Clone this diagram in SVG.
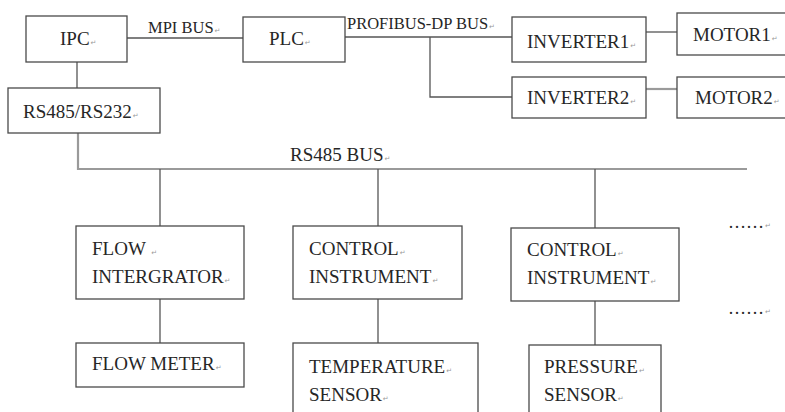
<svg xmlns="http://www.w3.org/2000/svg" width="785" height="412" viewBox="0 0 785 412">
<style>
.box{fill:#fff;stroke:#4a4a4a;stroke-width:1.3}
.ln{fill:none;stroke:#555;stroke-width:1.3}
.bus{fill:none;stroke:#9a9a9a;stroke-width:2.2}
.t{font-family:'Liberation Serif','Times New Roman',serif;font-size:19px;fill:#262626}
.lb{font-family:'Liberation Serif','Times New Roman',serif;font-size:16.5px;fill:#262626}
.rm{font-family:'DejaVu Sans',sans-serif;font-size:7px;fill:#999}
</style>
<rect width="785" height="412" fill="#fff"/>
<g id="connectors">
<line class="ln" x1="127" y1="38" x2="243" y2="38"/>
<line class="ln" x1="345" y1="37" x2="512" y2="37"/>
<polyline class="ln" points="430,37 430,97 512,97"/>
<line class="ln" x1="646" y1="32" x2="677" y2="32"/>
<line class="bus" x1="646" y1="89" x2="677" y2="89"/>
<line class="ln" x1="77" y1="62" x2="77" y2="88"/>
<polyline class="bus" points="78,133 78,169 747,169"/>
<line class="ln" x1="160" y1="169" x2="160" y2="226"/>
<line class="ln" x1="378" y1="169" x2="378" y2="226"/>
<line class="ln" x1="595" y1="169" x2="595" y2="228"/>
<line class="ln" x1="160" y1="299" x2="160" y2="343"/>
<line class="ln" x1="378" y1="299" x2="378" y2="343"/>
<line class="ln" x1="595" y1="301" x2="595" y2="345"/>
<text class="lb" x="148" y="33">MPI BUS<tspan class="rm" dx="1">↵</tspan></text>
<text class="lb" x="347" y="29">PROFIBUS-DP BUS<tspan class="rm" dx="1">↵</tspan></text>
<text class="t" x="290" y="161">RS485 BUS<tspan class="rm" dx="1">↵</tspan></text>
</g>
<g id="ipc"><rect class="box" x="26" y="16" width="101" height="46"/><text class="t" x="60" y="45">IPC<tspan class="rm" dx="1">↵</tspan></text></g>
<g id="plc"><rect class="box" x="243" y="17" width="102" height="45"/><text class="t" x="269" y="45">PLC<tspan class="rm" dx="1">↵</tspan></text></g>
<g id="rs485"><rect class="box" x="8" y="88" width="152" height="45"/><text class="t" x="23" y="118">RS485/RS232<tspan class="rm" dx="1">↵</tspan></text></g>
<g id="inverter1"><rect class="box" x="512" y="17" width="134" height="45"/><text class="t" x="527" y="48">INVERTER1<tspan class="rm" dx="1">↵</tspan></text></g>
<g id="inverter2"><rect class="box" x="512" y="77" width="134" height="41"/><text class="t" x="527" y="104">INVERTER2<tspan class="rm" dx="1">↵</tspan></text></g>
<g id="motor1"><rect class="box" x="677" y="13" width="120" height="42"/><text class="t" x="693" y="41">MOTOR1<tspan class="rm" dx="1">↵</tspan></text></g>
<g id="motor2"><rect class="box" x="677" y="77" width="120" height="41"/><text class="t" x="695" y="104">MOTOR2<tspan class="rm" dx="1">↵</tspan></text></g>
<g id="flow-integrator"><rect class="box" x="76" y="226" width="168" height="73"/><text class="t" x="92" y="255">FLOW <tspan class="rm" dx="1">↵</tspan></text><text class="t" x="92" y="283">INTERGRATOR<tspan class="rm" dx="1">↵</tspan></text></g>
<g id="control1"><rect class="box" x="293" y="226" width="169" height="73"/><text class="t" x="309" y="255">CONTROL<tspan class="rm" dx="1">↵</tspan></text><text class="t" x="309" y="283">INSTRUMENT<tspan class="rm" dx="1">↵</tspan></text></g>
<g id="control2"><rect class="box" x="511" y="228" width="168" height="73"/><text class="t" x="527" y="256">CONTROL<tspan class="rm" dx="1">↵</tspan></text><text class="t" x="527" y="284">INSTRUMENT<tspan class="rm" dx="1">↵</tspan></text></g>
<g id="flow-meter"><rect class="box" x="76" y="343" width="168" height="44"/><text class="t" x="92" y="370">FLOW METER<tspan class="rm" dx="1">↵</tspan></text></g>
<g id="temperature-sensor"><rect class="box" x="293" y="343" width="185" height="80"/><text class="t" x="309" y="373">TEMPERATURE<tspan class="rm" dx="1">↵</tspan></text><text class="t" x="309" y="401">SENSOR<tspan class="rm" dx="1">↵</tspan></text></g>
<g id="pressure-sensor"><rect class="box" x="529" y="345" width="132" height="80"/><text class="t" x="544" y="373">PRESSURE<tspan class="rm" dx="1">↵</tspan></text><text class="t" x="544" y="401">SENSOR<tspan class="rm" dx="1">↵</tspan></text></g>
<g id="more1"><text class="t" x="728" y="228" style="font-size:18px">……<tspan class="rm" dx="1">↵</tspan></text></g>
<g id="more2"><text class="t" x="728" y="314" style="font-size:18px">……<tspan class="rm" dx="1">↵</tspan></text></g>
</svg>
